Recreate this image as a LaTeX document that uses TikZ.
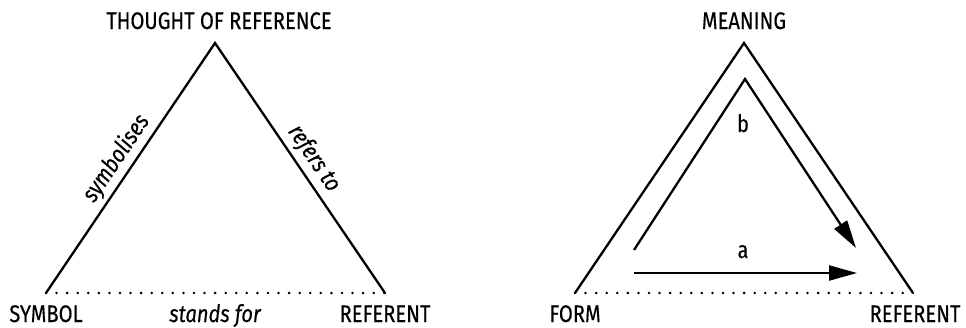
\documentclass[tikz,border=0pt]{standalone}
\usepackage{fontspec}
\setmainfont{Fira Sans}[FakeStretch=0.84, FakeBold=0.3]
\usetikzlibrary{arrows.meta}
\tikzset{
  edge/.style={line width=2.3pt, line cap=round, line join=miter},
  dotline/.style={line width=2.8pt, line cap=round, dash pattern=on 0pt off 10.57pt},
  lbl/.style={font=\fontsize{24}{26}\selectfont, inner sep=0pt, anchor=base},
  slbl/.style={font=\fontsize{24}{26}\selectfont\itshape, inner sep=4pt, sloped, above},
  arr/.style={line width=2.3pt, -{Triangle[length=28pt, width=15pt]}}
}
\begin{document}
\begin{tikzpicture}[x=1pt, y=-1pt]
\useasboundingbox (0,0) rectangle (966,327);
% left triangle
\coordinate (LA) at (215,43);
\coordinate (LL) at (46,293);
\coordinate (LR) at (385,293);
\draw[edge] (LL) -- node[slbl] {symbolises} (LA) -- node[slbl] {refers to} (LR);
\draw[dotline] (LL) -- (LR);
\node[lbl] (thought) at (219,29) {THOUGHT OF REFERENCE};
\node[lbl] (symbol) at (46,322) {SYMBOL};
\node[lbl, font=\fontsize{24}{26}\selectfont\itshape] (stands) at (215,322) {stands for};
\node[lbl] (ref1) at (385,322) {REFERENT};
% right triangle
\coordinate (RA) at (744,43);
\coordinate (RL) at (575,293);
\coordinate (RR) at (913,293);
\draw[edge] (RL) -- (RA) -- (RR);
\draw[dotline] (RL) -- (RR);
\node[lbl] (meaning) at (744,29) {MEANING};
\node[lbl] (form) at (575,322) {FORM};
\node[lbl] (ref2) at (915,322) {REFERENT};
% inner paths
\coordinate (bS) at (634,250);
\coordinate (bA) at (745,79);
\coordinate (bT) at (856,248);
\draw[arr, line join=miter] (bS) -- (bA) -- (bT);
\coordinate (aS) at (634,273);
\coordinate (aT) at (857,273);
\draw[arr] (aS) -- (aT);
\node[lbl] (b) at (743,132) {b};
\node[lbl] (a) at (743,258) {a};
\end{tikzpicture}
\end{document}
